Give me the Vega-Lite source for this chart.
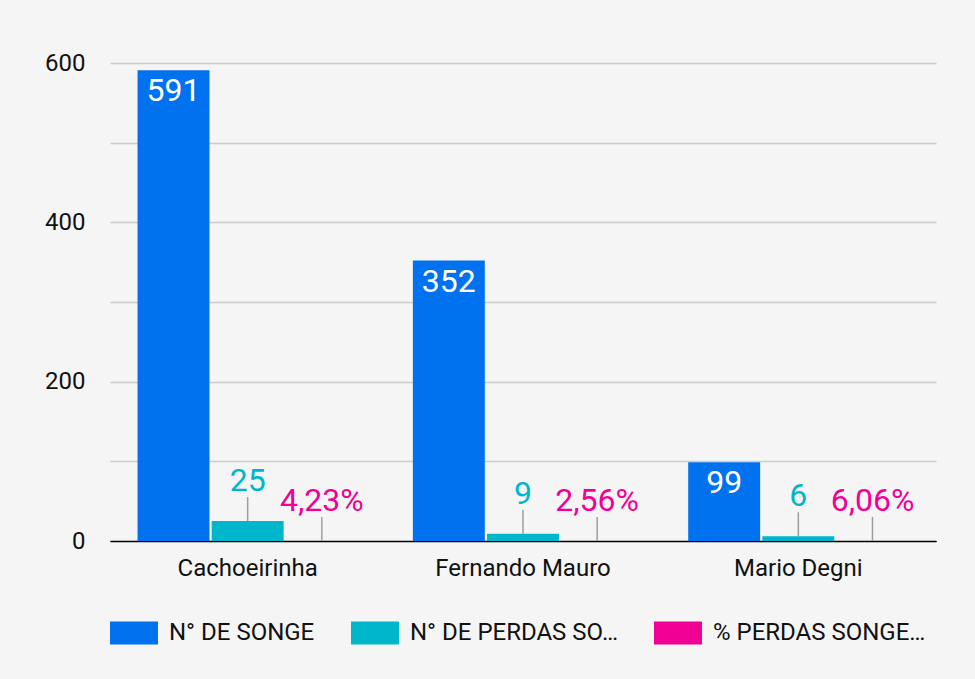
{
  "$schema": "https://vega.github.io/schema/vega-lite/v6.json",
  "width": 826,
  "height": 478,
  "autosize": {"type": "none"},
  "padding": {"left": 110, "top": 63, "right": 39, "bottom": 138},
  "background": "#f5f5f5",
  "config": {
    "view": {"stroke": null},
    "font": "Roboto",
    "axis": {"labelFont": "Roboto", "labelColor": "#111111"},
    "legend": {"labelFont": "Roboto"}
  },
  "data": {
    "values": [
      {"local": "Cachoeirinha", "serie": "N° DE SONGE", "valor": 591, "rotulo": "591"},
      {"local": "Cachoeirinha", "serie": "N° DE PERDAS SO…", "valor": 25, "rotulo": "25"},
      {"local": "Cachoeirinha", "serie": "% PERDAS SONGE…", "valor": 0.0423, "rotulo": "4,23%"},
      {"local": "Fernando Mauro", "serie": "N° DE SONGE", "valor": 352, "rotulo": "352"},
      {"local": "Fernando Mauro", "serie": "N° DE PERDAS SO…", "valor": 9, "rotulo": "9"},
      {"local": "Fernando Mauro", "serie": "% PERDAS SONGE…", "valor": 0.0256, "rotulo": "2,56%"},
      {"local": "Mario Degni", "serie": "N° DE SONGE", "valor": 99, "rotulo": "99"},
      {"local": "Mario Degni", "serie": "N° DE PERDAS SO…", "valor": 6, "rotulo": "6"},
      {"local": "Mario Degni", "serie": "% PERDAS SONGE…", "valor": 0.0606, "rotulo": "6,06%"}
    ]
  },
  "encoding": {
    "x": {
      "field": "local", "type": "nominal", "sort": null,
      "scale": {"paddingInner": 0.2, "paddingOuter": 0.1},
      "axis": {
        "title": null, "labelAngle": 0, "ticks": false, "labelFontSize": 24,
        "labelBaseline": "alphabetic", "labelPadding": 34,
        "domain": true, "domainColor": "#000000", "domainWidth": 1, "zindex": 1
      }
    },
    "xOffset": {
      "field": "serie", "type": "nominal",
      "sort": ["N° DE SONGE", "N° DE PERDAS SO…", "% PERDAS SONGE…"],
      "scale": {"paddingInner": 0.03, "paddingOuter": 0}
    },
    "y": {
      "field": "valor", "type": "quantitative",
      "scale": {"domain": [0, 600], "nice": false},
      "axis": {
        "title": null, "values": [0, 100, 200, 300, 400, 500, 600],
        "labelExpr": "datum.value % 200 === 0 ? datum.label : ''",
        "ticks": false, "domain": false, "labelFontSize": 24, "labelPadding": 25,
        "gridColor": {"condition": {"test": "datum.value === 0", "value": "#000000"}, "value": "#cccccc"},
        "gridWidth": 1.3
      }
    }
  },
  "layer": [
    {
      "mark": {"type": "bar"},
      "encoding": {
        "color": {
          "field": "serie", "type": "nominal",
          "scale": {
            "domain": ["N° DE SONGE", "N° DE PERDAS SO…", "% PERDAS SONGE…"],
            "range": ["#0072f0", "#00b6cb", "#f10096"]
          },
          "legend": {
            "title": null, "orient": "none", "direction": "horizontal",
            "legendX": 0, "legendY": 546, "padding": 0,
            "symbolType": "M-1,-0.479H1V0.479H-1Z", "symbolSize": 2304,
            "symbolStrokeWidth": 0, "symbolOpacity": 1,
            "labelFontSize": 24, "labelColor": "#111111", "labelOffset": 11,
            "columnPadding": 36, "labelLimit": 400
          }
        }
      }
    },
    {
      "transform": [{"filter": "datum.serie === 'N° DE SONGE'"}],
      "mark": {"type": "text", "baseline": "alphabetic", "dy": 31, "fontSize": 32, "color": "#ffffff"},
      "encoding": {"text": {"field": "rotulo"}}
    },
    {
      "transform": [{"filter": "datum.serie !== 'N° DE SONGE'"}],
      "mark": {"type": "rule", "color": "#9e9e9e", "strokeWidth": 1.5, "y2Offset": -24},
      "encoding": {"y2": {"field": "valor"}}
    },
    {
      "transform": [{"filter": "datum.serie !== 'N° DE SONGE'"}],
      "mark": {"type": "text", "baseline": "alphabetic", "dy": -30, "fontSize": 32},
      "encoding": {
        "text": {"field": "rotulo"},
        "color": {"field": "serie", "type": "nominal", "legend": null}
      }
    }
  ]
}
